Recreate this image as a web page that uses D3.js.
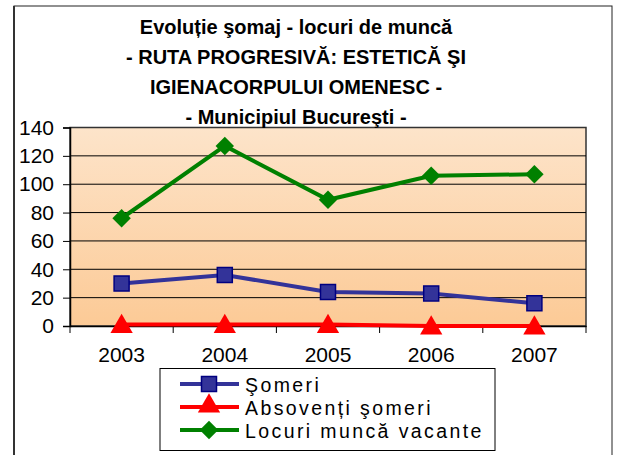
<!DOCTYPE html>
<html>
<head>
<meta charset="utf-8">
<script src="https://cdn.jsdelivr.net/npm/d3@7"></script>
<style>
  body { margin: 0; background: #fff; }
  svg { display: block; font-family: Arial, "Liberation Sans", sans-serif; }
</style>
</head>
<body>
<svg id="chart"></svg>
<script>
const width = 618;
const height = 455;

// data
const years = ["2003", "2004", "2005", "2006", "2007"];
const someri = [30, 36, 24, 23, 16];
const absolventi = [1, 1, 1, 0, 0];
const locuri = [76, 127, 89, 106, 107];
const yTicks = [0, 20, 40, 60, 80, 100, 120, 140];
const seriesNames = ["Şomeri", "Absovenți şomeri", "Locuri muncă vacante"];
const titleLines = [
  "Evoluție şomaj - locuri de muncă",
  "- RUTA PROGRESIVĂ: ESTETICĂ ŞI",
  "IGIENACORPULUI OMENESC -",
  "- Municipiul Bucureşti -"
];

const margin = { top: 127.5, right: 32, bottom: 129, left: 70 };

const svg = d3.select("#chart").attr("width", width).attr("height", height);

// gradient for plot area
const defs = svg.append("defs");
const grad = defs.append("linearGradient")
  .attr("id", "bg")
  .attr("x1", 0).attr("y1", 0).attr("x2", 0).attr("y2", 1);
grad.append("stop").attr("offset", "0%").attr("stop-color", "#fde4ca");
grad.append("stop").attr("offset", "100%").attr("stop-color", "#fcca96");

// outer frame
svg.append("rect")
  .attr("x", 14).attr("y", 6)
  .attr("width", 598).attr("height", 470)
  .attr("fill", "none")
  .attr("stroke", "#222")
  .attr("stroke-width", 1);
svg.append("line")
  .attr("x1", 14).attr("x2", 14).attr("y1", 6).attr("y2", height)
  .attr("stroke", "#333").attr("stroke-width", 2);

const x = d3.scaleBand()
  .domain(years)
  .range([margin.left, width - margin.right]);

const y = d3.scaleLinear()
  .domain([0, 140])
  .range([height - margin.bottom, margin.top]);

// plot background
svg.append("rect")
  .attr("x", margin.left)
  .attr("y", margin.top)
  .attr("width", width - margin.right - margin.left)
  .attr("height", y(0) - margin.top)
  .attr("fill", "url(#bg)")
  .attr("stroke", "#333")
  .attr("stroke-width", 1.5);

// gridlines
svg.append("g")
  .selectAll("line")
  .data(yTicks.filter((d) => d > 0 && d < 140))
  .enter()
  .append("line")
  .attr("x1", margin.left)
  .attr("x2", width - margin.right)
  .attr("y1", (d) => y(d))
  .attr("y2", (d) => y(d))
  .attr("stroke", "#000")
  .attr("stroke-width", 1);

// y axis
const yAxis = d3.axisLeft(y).tickValues(yTicks).tickSize(7).tickPadding(9);
const gy = svg.append("g")
  .attr("transform", `translate(${margin.left}, 0)`)
  .call(yAxis);
gy.select(".domain").attr("stroke", "#000").attr("stroke-width", 1.5);
gy.selectAll("text")
  .style("font-size", "21px")
  .style("font-family", "Arial, 'Liberation Sans', sans-serif")
  .attr("fill", "#000");

// x axis
const xAxis = d3.axisBottom(x).tickSize(0).tickPadding(21);
const gx = svg.append("g")
  .attr("transform", `translate(0, ${y(0)})`)
  .call(xAxis);
gx.select(".domain").attr("stroke", "#000").attr("stroke-width", 1.5);
gx.selectAll("text")
  .style("font-size", "21px")
  .style("font-family", "Arial, 'Liberation Sans', sans-serif")
  .attr("fill", "#000");
// category boundary ticks
svg.append("g")
  .selectAll("line")
  .data(years.concat(["end"]))
  .enter()
  .append("line")
  .attr("x1", (d, i) => margin.left + i * x.step())
  .attr("x2", (d, i) => margin.left + i * x.step())
  .attr("y1", y(0))
  .attr("y2", y(0) + 7)
  .attr("stroke", "#000")
  .attr("stroke-width", 1);

const cx = (d, i) => x(years[i]) + x.bandwidth() / 2;
const line = d3.line().x((d, i) => cx(d, i)).y((d) => y(d));

const series = [
  { name: seriesNames[0], values: someri, color: "#333399", marker: "square" },
  { name: seriesNames[1], values: absolventi, color: "#ff0000", marker: "triangle" },
  { name: seriesNames[2], values: locuri, color: "#008000", marker: "diamond" }
];

const symbolFor = {
  square: d3.symbol().type(d3.symbolSquare).size(225),
  triangle: d3.symbol().type(d3.symbolTriangle).size(215),
  diamond: d3.symbol().type(d3.symbolSquare).size(170)
};

function drawMarker(g, s, px, py) {
  const m = g.append("path")
    .attr("d", symbolFor[s.marker]())
    .attr("transform", `translate(${px}, ${py})` + (s.marker === "diamond" ? " rotate(45)" : ""));
  if (s.marker === "square") {
    m.attr("fill", "#333399").attr("stroke", "#000080").attr("stroke-width", 1.5);
  } else {
    m.attr("fill", s.color);
  }
}

series.forEach((s) => {
  svg.append("path")
    .datum(s.values)
    .attr("d", line)
    .attr("fill", "none")
    .attr("stroke", s.color)
    .attr("stroke-width", 4);
  const g = svg.append("g");
  s.values.forEach((v, i) => {
    const py = s.marker === "triangle" ? y(v) + 2 : y(v);
    drawMarker(g, s, cx(v, i), py);
  });
});

// title
svg.append("g")
  .selectAll("text")
  .data(titleLines)
  .enter()
  .append("text")
  .attr("x", 296)
  .attr("y", (d, i) => 33.5 + i * 30)
  .attr("text-anchor", "middle")
  .style("font-size", "20px")
  .style("font-weight", "bold")
  .text((d) => d);

// legend
const legend = svg.append("g");
legend.append("rect")
  .attr("x", 160).attr("y", 368.5)
  .attr("width", 335).attr("height", 82)
  .attr("fill", "#fff")
  .attr("stroke", "#000")
  .attr("stroke-width", 1);

series.forEach((s, i) => {
  const ly = 384 + i * 23;
  legend.append("line")
    .attr("x1", 180).attr("x2", 239)
    .attr("y1", ly).attr("y2", ly)
    .attr("stroke", s.color)
    .attr("stroke-width", 4);
  drawMarker(legend, s, 209, s.marker === "triangle" ? ly - 1 : ly);
  legend.append("text")
    .attr("x", 245)
    .attr("y", ly + 8)
    .style("font-size", "19.5px")
    .style("letter-spacing", "2.4px")
    .text(s.name);
});
</script>
</body>
</html>
